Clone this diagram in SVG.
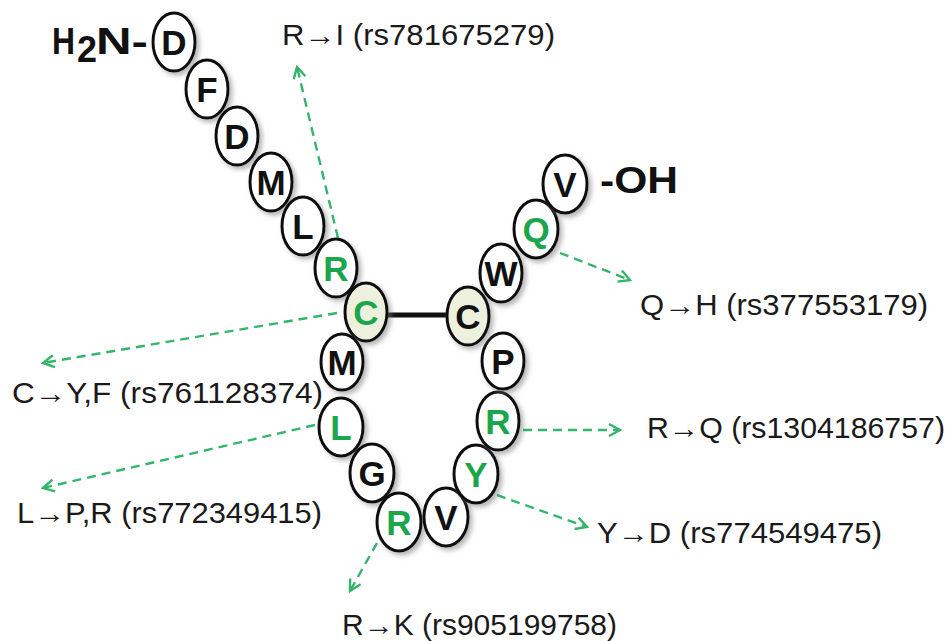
<svg xmlns="http://www.w3.org/2000/svg" width="950" height="641" viewBox="0 0 950 641">
  <defs>
    <filter id="shade" x="-30%" y="-30%" width="170%" height="170%">
      <feDropShadow dx="3" dy="3" stdDeviation="2.5" flood-color="#777" flood-opacity="0.55"/>
    </filter>
    <marker id="chev" viewBox="0 0 14 14" refX="12" refY="7" markerWidth="14" markerHeight="14" markerUnits="userSpaceOnUse" orient="auto">
      <polyline points="1,1 12,7 1,13" fill="none" stroke="#33b56c" stroke-width="2.4"/>
    </marker>
    <style>
      .res ellipse { fill: #ffffff; stroke: #111; stroke-width: 3; filter: url(#shade); }
      .res.cys ellipse { fill: #eef0de; }
      .res text { font-family: "Liberation Sans", "DejaVu Sans", sans-serif; font-weight: bold; font-size: 35px; text-anchor: middle; fill: #111; }
      .res.var text { fill: #1ba64c; }
      .lbl { font-family: "Liberation Sans", "DejaVu Sans", sans-serif; font-size: 29px; fill: #1a1a1a; }
      .term { font-family: "Liberation Sans", "DejaVu Sans", sans-serif; font-weight: bold; font-size: 36px; fill: #111; }
      .arrow { fill: none; stroke: #33b56c; stroke-width: 2.4; stroke-dasharray: 9 6; marker-end: url(#chev); }
    </style>
  </defs>

  <rect width="950" height="641" fill="#ffffff"/>

  <!-- termini -->
  <g id="n-terminus">
    <text class="term" x="52" y="54" textLength="23" lengthAdjust="spacingAndGlyphs">H</text>
    <text class="term" x="77" y="62" font-size="20">2</text>
    <text class="term" x="96" y="54" textLength="52" lengthAdjust="spacingAndGlyphs">N-</text>
  </g>
  <g id="c-terminus">
    <text class="term" x="600" y="193" textLength="78" lengthAdjust="spacingAndGlyphs">-OH</text>
  </g>

  <!-- connectors: disulfide bond and variant arrows -->
  <g id="connectors">
    <line x1="387" y1="315" x2="448" y2="315" stroke="#111" stroke-width="5"/>
    <line class="arrow" x1="338" y1="238" x2="297" y2="67"/>
    <line class="arrow" x1="560" y1="253" x2="630" y2="280"/>
    <line class="arrow" x1="337" y1="313" x2="43" y2="363"/>
    <line class="arrow" x1="315" y1="425" x2="43" y2="488"/>
    <line class="arrow" x1="523" y1="430" x2="620" y2="430"/>
    <line class="arrow" x1="497" y1="495" x2="587" y2="527"/>
    <line class="arrow" x1="377" y1="543" x2="350" y2="591"/>
  </g>

  <!-- residues, N-terminus to C-terminus -->
  <g id="r1" class="res"><ellipse cx="174" cy="42" rx="21" ry="29"/><text x="174" y="55">D</text></g>
  <g id="r2" class="res"><ellipse cx="207" cy="89" rx="21" ry="29"/><text x="207" y="102">F</text></g>
  <g id="r3" class="res"><ellipse cx="237" cy="136" rx="21" ry="29"/><text x="237" y="149">D</text></g>
  <g id="r4" class="res"><ellipse cx="271" cy="182" rx="21" ry="29"/><text x="271" y="195">M</text></g>
  <g id="r5" class="res"><ellipse cx="303" cy="226" rx="21" ry="29"/><text x="303" y="239">L</text></g>
  <g id="r6" class="res var"><ellipse cx="336" cy="268" rx="21" ry="29"/><text x="336" y="281">R</text></g>
  <g id="r7" class="res var cys"><ellipse cx="366" cy="312" rx="21" ry="29"/><text x="366" y="325">C</text></g>
  <g id="r8" class="res"><ellipse cx="342" cy="362" rx="21" ry="28"/><text x="342" y="375">M</text></g>
  <g id="r9" class="res var"><ellipse cx="341" cy="427" rx="22" ry="29"/><text x="341" y="440">L</text></g>
  <g id="r10" class="res"><ellipse cx="372" cy="473" rx="22" ry="29"/><text x="372" y="486">G</text></g>
  <g id="r11" class="res var"><ellipse cx="399" cy="522" rx="22" ry="29"/><text x="399" y="535">R</text></g>
  <g id="r12" class="res"><ellipse cx="446" cy="517" rx="22" ry="29"/><text x="446" y="530">V</text></g>
  <g id="r13" class="res var"><ellipse cx="476" cy="474" rx="22" ry="29"/><text x="476" y="487">Y</text></g>
  <g id="r14" class="res var"><ellipse cx="498" cy="421" rx="21" ry="29"/><text x="498" y="434">R</text></g>
  <g id="r15" class="res"><ellipse cx="503" cy="361" rx="21" ry="28"/><text x="503" y="374">P</text></g>
  <g id="r16" class="res cys"><ellipse cx="468" cy="316" rx="21" ry="29"/><text x="468" y="329">C</text></g>
  <g id="r17" class="res"><ellipse cx="501" cy="273" rx="21" ry="29"/><text x="501" y="286">W</text></g>
  <g id="r18" class="res var"><ellipse cx="536" cy="229" rx="22" ry="29"/><text x="536" y="242">Q</text></g>
  <g id="r19" class="res"><ellipse cx="565" cy="184" rx="22" ry="29"/><text x="565" y="197">V</text></g>

  <!-- variant labels -->
  <g id="labels">
    <text class="lbl" x="282" y="45" textLength="273" lengthAdjust="spacingAndGlyphs">R→I (rs781675279)</text>
    <text class="lbl" x="640" y="315" textLength="288" lengthAdjust="spacingAndGlyphs">Q→H (rs377553179)</text>
    <text class="lbl" x="12" y="403" textLength="311" lengthAdjust="spacingAndGlyphs">C→Y,F (rs761128374)</text>
    <text class="lbl" x="17" y="523" textLength="305" lengthAdjust="spacingAndGlyphs">L→P,R (rs772349415)</text>
    <text class="lbl" x="647" y="438" textLength="298" lengthAdjust="spacingAndGlyphs">R→Q (rs1304186757)</text>
    <text class="lbl" x="597" y="543" textLength="285" lengthAdjust="spacingAndGlyphs">Y→D (rs774549475)</text>
    <text class="lbl" x="342" y="635" textLength="275" lengthAdjust="spacingAndGlyphs">R→K (rs905199758)</text>
  </g>
</svg>
